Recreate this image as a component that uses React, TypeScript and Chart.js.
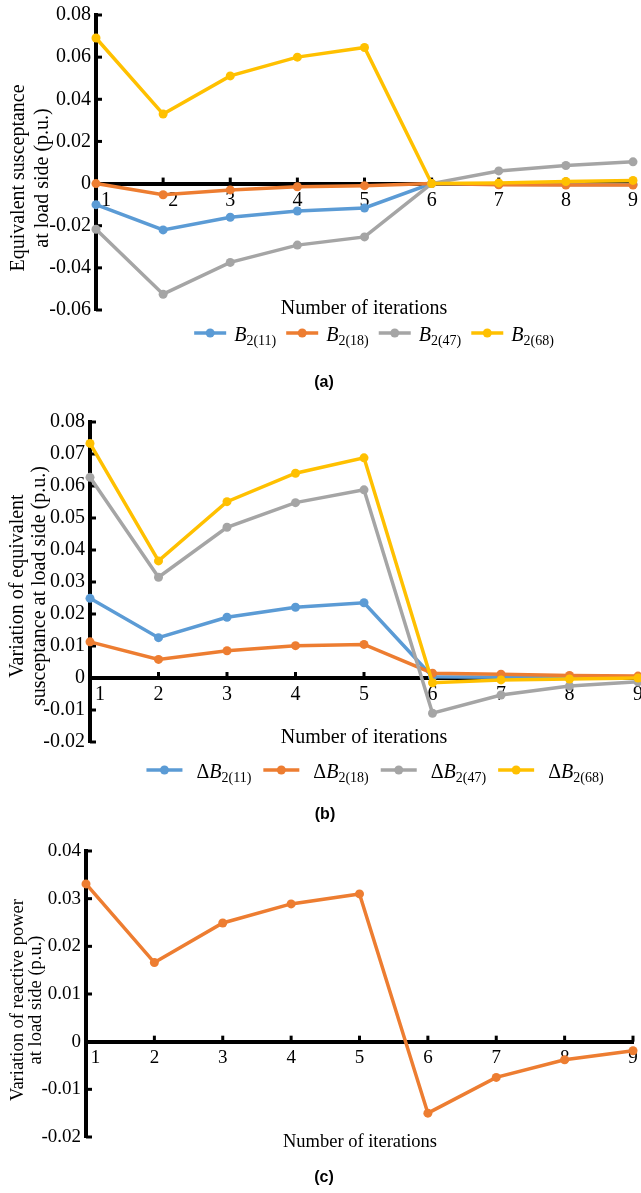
import React, { useEffect, useRef } from "react";
import { Chart, registerables } from "chart.js";

Chart.register(...registerables);

// ---------------- data ----------------
const iterations = ["1", "2", "3", "4", "5", "6", "7", "8", "9"];

// (a) equivalent susceptance at load side
const b2_11 = [-0.01, -0.022, -0.016, -0.013, -0.0116, 0, -0.0003, -0.0004, -0.0004];
const b2_18 = [0, -0.0053, -0.003, -0.0015, -0.001, 0, -0.0006, -0.0007, -0.0007];
const b2_47 = [-0.0217, -0.0525, -0.0374, -0.0292, -0.0253, 0, 0.006, 0.0086, 0.0103];
const b2_68 = [0.0691, 0.033, 0.0511, 0.06, 0.0646, 0, 0.0003, 0.001, 0.0015];

// (b) variation of equivalent susceptance
const db2_11 = [0.0249, 0.0126, 0.019, 0.0221, 0.0235, 0.0004, 0.0002, 0.0002, 0.0002];
const db2_18 = [0.0113, 0.0058, 0.0085, 0.0101, 0.0105, 0.0015, 0.0012, 0.0008, 0.0006];
const db2_47 = [0.0627, 0.0315, 0.0471, 0.0548, 0.0588, -0.011, -0.0053, -0.0025, -0.0012];
const db2_68 = [0.0733, 0.0366, 0.0551, 0.064, 0.0688, -0.0015, -0.0006, -0.0003, 0];

// (c) variation of reactive power
const dq = [0.0331, 0.0166, 0.0249, 0.0289, 0.031, -0.015, -0.0075, -0.0038, -0.0019];

const seriesIds = ["2(11)", "2(18)", "2(47)", "2(68)"];

const yTicksA = ["-0.06", "-0.04", "-0.02", "0", "0.02", "0.04", "0.06", "0.08"];
const yTicksB = ["-0.02", "-0.01", "0", "0.01", "0.02", "0.03", "0.04", "0.05", "0.06", "0.07", "0.08"];
const yTicksC = ["-0.02", "-0.01", "0", "0.01", "0.02", "0.03", "0.04"];

const xTitle = "Number of iterations";
const yTitleA = ["Equivalent susceptance", "at load side (p.u.)"];
const yTitleB = ["Variation of equivalent", "susceptance at load side (p.u.)"];
const yTitleC = ["Variation of reactive power", "at load side (p.u.)"];

// ---------------- styles ----------------
const SERIF = '"Liberation Serif", "Times New Roman", serif';
const SANS = '"Liberation Sans", Arial, sans-serif';
const COLORS = ["#5B9BD5", "#ED7D31", "#A5A5A5", "#FFC000"];
const CANVAS_W = 660;
const AXIS_W = 4;

type PanelCfg = {
  top: number;
  height: number;
  area: { left: number; right: number; top: number; bottom: number };
  yTicks: string[];
  series: number[][];
  colors: string[];
  tickSize: number;
  shiftedLabels: number;
  legend?: { prefix: string; cx: number; y: number; lineLen: number; gapLT: number; gapItems: number; size: number; subSize: number };
  xTitle: { cx: number; baseline: number; size: number };
  yTitle: { lines: string[]; xs: number[]; cy: number; size: number };
  label: { text: string; cx: number; cy: number; size: number };
};

const panels: PanelCfg[] = [
  {
    top: 0,
    height: 395,
    area: { left: 96, right: 633, top: 12, bottom: 310 },
    yTicks: yTicksA,
    series: [b2_11, b2_18, b2_47, b2_68],
    colors: COLORS,
    tickSize: 20,
    shiftedLabels: 2,
    legend: { prefix: "", cx: 374, y: 333, lineLen: 32, gapLT: 8, gapItems: 10, size: 20, subSize: 14 },
    xTitle: { cx: 364, baseline: 314, size: 20 },
    yTitle: { lines: yTitleA, xs: [19, 43], cy: 178, size: 20 },
    label: { text: "(a)", cx: 324, cy: 383, size: 16 },
  },
  {
    top: 395,
    height: 430,
    area: { left: 90, right: 638, top: 27, bottom: 347 },
    yTicks: yTicksB,
    series: [db2_11, db2_18, db2_47, db2_68],
    colors: COLORS,
    tickSize: 20,
    shiftedLabels: 1,
    legend: { prefix: "\u0394", cx: 375, y: 375, lineLen: 36, gapLT: 14, gapItems: 12, size: 20, subSize: 14 },
    xTitle: { cx: 364, baseline: 348, size: 20 },
    yTitle: { lines: yTitleB, xs: [18, 40], cy: 191, size: 20 },
    label: { text: "(b)", cx: 325, cy: 420, size: 16 },
  },
  {
    top: 825,
    height: 368,
    area: { left: 86, right: 633, top: 26, bottom: 312 },
    yTicks: yTicksC,
    series: [dq],
    colors: [COLORS[1]],
    tickSize: 19,
    shiftedLabels: 1,
    xTitle: { cx: 360, baseline: 322, size: 18.5 },
    yTitle: { lines: yTitleC, xs: [18, 36], cy: 175, size: 18.5 },
    label: { text: "(c)", cx: 324, cy: 353, size: 16 },
  },
];

const inwardTicks = {
  id: "inwardTicks",
  beforeDatasetsDraw(chart: any) {
    const { ctx } = chart;
    const x = chart.scales.x;
    const y = chart.scales.y;
    const y0 = y.getPixelForValue(0);
    ctx.save();
    ctx.strokeStyle = "#000";
    ctx.lineWidth = 3;
    x.ticks.forEach((_: any, i: number) => {
      const px = x.getPixelForTick(i);
      ctx.beginPath();
      ctx.moveTo(px, y0);
      ctx.lineTo(px, y0 - 6);
      ctx.stroke();
    });
    y.ticks.forEach((_: any, i: number) => {
      const py = y.getPixelForTick(i);
      ctx.beginPath();
      ctx.moveTo(y.right, py);
      ctx.lineTo(y.right + 6, py);
      ctx.stroke();
    });
    ctx.restore();
  },
};

function makeTextPlugin(cfg: PanelCfg) {
  return {
    id: "figureText",
    afterDraw(chart: any) {
      const ctx: CanvasRenderingContext2D = chart.ctx;
      ctx.save();
      ctx.fillStyle = "#000";
      // y title
      ctx.font = `${cfg.yTitle.size}px ${SERIF}`;
      ctx.textAlign = "center";
      ctx.textBaseline = "middle";
      cfg.yTitle.lines.forEach((line, i) => {
        ctx.save();
        ctx.translate(cfg.yTitle.xs[i], cfg.yTitle.cy);
        ctx.rotate(-Math.PI / 2);
        ctx.fillText(line, 0, 0);
        ctx.restore();
      });
      // x title
      ctx.textBaseline = "alphabetic";
      ctx.font = `${cfg.xTitle.size}px ${SERIF}`;
      ctx.fillText(xTitle, cfg.xTitle.cx, cfg.xTitle.baseline);
      // panel label
      ctx.font = `bold ${cfg.label.size}px ${SANS}`;
      ctx.textBaseline = "middle";
      ctx.fillText(cfg.label.text, cfg.label.cx, cfg.label.cy);
      // legend
      const lg = cfg.legend;
      if (lg) {
        const ds = chart.data.datasets;
        const mainFont = `${lg.size}px ${SERIF}`;
        const italFont = `italic ${lg.size}px ${SERIF}`;
        const subFont = `${lg.subSize}px ${SERIF}`;
        const widths = ds.map((d: any, i: number) => {
          ctx.font = mainFont;
          const pw = lg.prefix ? ctx.measureText(lg.prefix).width : 0;
          ctx.font = italFont;
          const bw = ctx.measureText("B").width;
          ctx.font = subFont;
          const sw = ctx.measureText(seriesIds[i]).width;
          return { pw, bw, sw, total: lg.lineLen + lg.gapLT + pw + bw + sw };
        });
        const total = widths.reduce((a: number, w: any) => a + w.total, 0) + lg.gapItems * (ds.length - 1);
        let x = lg.cx - total / 2;
        ctx.textAlign = "left";
        ctx.textBaseline = "alphabetic";
        ds.forEach((d: any, i: number) => {
          const w = widths[i];
          ctx.strokeStyle = d.borderColor;
          ctx.lineWidth = 3.5;
          ctx.beginPath();
          ctx.moveTo(x, lg.y);
          ctx.lineTo(x + lg.lineLen, lg.y);
          ctx.stroke();
          ctx.fillStyle = d.borderColor;
          ctx.beginPath();
          ctx.arc(x + lg.lineLen / 2, lg.y, 4.5, 0, Math.PI * 2);
          ctx.fill();
          ctx.fillStyle = "#000";
          let tx = x + lg.lineLen + lg.gapLT;
          const base = lg.y + 8;
          if (lg.prefix) {
            ctx.font = mainFont;
            ctx.fillText(lg.prefix, tx, base);
            tx += w.pw;
          }
          ctx.font = italFont;
          ctx.fillText("B", tx, base);
          tx += w.bw;
          ctx.font = subFont;
          ctx.fillText(seriesIds[i], tx, base + 4);
          x += w.total + lg.gapItems;
        });
      }
      ctx.restore();
    },
  };
}

function Panel({ cfg }: { cfg: PanelCfg }) {
  const ref = useRef<HTMLCanvasElement>(null);
  useEffect(() => {
    const yVals = cfg.yTicks.map((t) => parseFloat(t));
    const chart = new Chart(ref.current as HTMLCanvasElement, {
      type: "line",
      data: {
        labels: iterations,
        datasets: cfg.series.map((s, i) => ({
          label: seriesIds[i],
          data: s,
          borderColor: cfg.colors[i],
          backgroundColor: cfg.colors[i],
          pointBackgroundColor: cfg.colors[i],
          pointBorderColor: cfg.colors[i],
          borderWidth: 3.5,
          pointRadius: 4.5,
          pointBorderWidth: 0,
          pointHoverRadius: 4.5,
          tension: 0,
          clip: false as any,
          order: -i,
        })),
      },
      options: {
        animation: false,
        responsive: true,
        maintainAspectRatio: false,
        events: [],
        layout: {
          padding: {
            left: 0,
            right: CANVAS_W - cfg.area.right,
            top: cfg.area.top,
            bottom: cfg.height - cfg.area.bottom,
          },
        },
        plugins: {
          legend: { display: false },
          tooltip: { enabled: false },
        },
        scales: {
          x: {
            type: "category",
            offset: false,
            position: { y: 0 } as any,
            afterFit: (s: any) => {
              s.height = 0;
            },
            grid: { display: false, drawTicks: false },
            border: { display: true, width: AXIS_W, color: "#000" },
            ticks: {
              color: "#000",
              font: { family: SERIF, size: cfg.tickSize, lineHeight: 1 },
              padding: 7,
              maxRotation: 0,
              autoSkip: false,
              callback: (_v: any, i: number) =>
                (i < cfg.shiftedLabels ? "    " : "") + iterations[i],
            },
          },
          y: {
            type: "linear",
            min: yVals[0],
            max: yVals[yVals.length - 1],
            afterBuildTicks: (s: any) => {
              s.ticks = yVals.map((v) => ({ value: v }));
            },
            afterFit: (s: any) => {
              s.width = cfg.area.left;
            },
            grid: { display: false, drawTicks: false },
            border: { display: true, width: AXIS_W, color: "#000" },
            ticks: {
              color: "#000",
              font: { family: SERIF, size: cfg.tickSize, lineHeight: 1 },
              padding: 5,
              callback: (_v: any, i: number) => cfg.yTicks[i],
            },
          },
        },
      },
      plugins: [inwardTicks, makeTextPlugin(cfg)],
    });
    return () => chart.destroy();
  }, [cfg]);
  return (
    <div
      style={{
        position: "absolute",
        left: 0,
        top: cfg.top,
        width: CANVAS_W,
        height: cfg.height,
      }}
    >
      <canvas ref={ref} />
    </div>
  );
}

export default function App() {
  return (
    <div
      style={{
        position: "absolute",
        left: 0,
        top: 0,
        width: 641,
        height: 1193,
        overflow: "hidden",
        background: "#fff",
      }}
    >
      {panels.map((p, i) => (
        <Panel key={i} cfg={p} />
      ))}
    </div>
  );
}
